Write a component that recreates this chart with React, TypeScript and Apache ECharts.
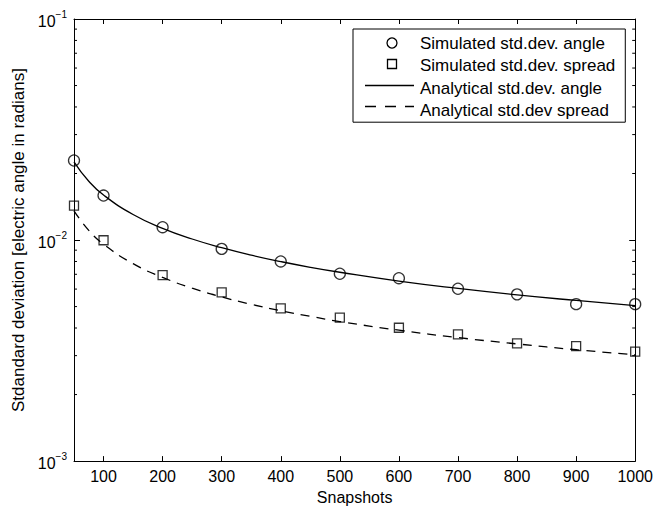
import React, { useEffect, useRef } from "react";
import * as echarts from "echarts";

const simX = [50, 100, 200, 300, 400, 500, 600, 700, 800, 900, 1000];
const simAngle = [0.0229, 0.0159, 0.01143, 0.00912, 0.0080, 0.00704, 0.00672, 0.00602, 0.00568, 0.00513, 0.00513];
const simSpread = [0.01432, 0.00998, 0.00694, 0.0058, 0.00491, 0.00446, 0.00401, 0.00374, 0.00341, 0.00331, 0.00313];

const anaX = [50, 75, 100, 150, 200, 250, 300, 350, 400, 450, 500, 600, 700, 800, 900, 1000];
const anaAngle = [0.0226, 0.01845, 0.01598, 0.01305, 0.0113, 0.01011, 0.00923, 0.00854, 0.00799, 0.00753, 0.00715, 0.00652, 0.00604, 0.00565, 0.00533, 0.00505];
const anaSpread = [0.01355, 0.01106, 0.00958, 0.00782, 0.00678, 0.00606, 0.00553, 0.00512, 0.00479, 0.00452, 0.00428, 0.00391, 0.00362, 0.00339, 0.00319, 0.00303];

const xTicks = [100, 200, 300, 400, 500, 600, 700, 800, 900, 1000];
const yMinorTicks = [
  0.002, 0.003, 0.004, 0.005, 0.006, 0.007, 0.008, 0.009,
  0.02, 0.03, 0.04, 0.05, 0.06, 0.07, 0.08, 0.09,
];

const names = [
  "Simulated std.dev. angle",
  "Simulated std.dev. spread",
  "Analytical std.dev. angle",
  "Analytical std.dev spread",
];

const FONT = "Liberation Sans, Arial, Helvetica, sans-serif";

export default function App() {
  const ref = useRef<HTMLDivElement>(null);
  useEffect(() => {
    if (!ref.current) return;
    const chart = echarts.init(ref.current, null, { renderer: "svg" });
    const axisLineStyle = { color: "#000", width: 1 };
    const xCommon = {
      type: "value",
      min: 50,
      max: 1000,
      splitLine: { show: false },
      axisLine: { show: true, onZero: false, lineStyle: axisLineStyle },
    };
    const yCommon = {
      type: "log",
      logBase: 10,
      min: 0.001,
      max: 0.1,
      splitLine: { show: false },
      axisLine: { show: true, onZero: false, lineStyle: axisLineStyle },
      axisTick: { show: true, inside: true, length: 6, lineStyle: axisLineStyle },
    };
    const iconStroke = { stroke: "#000", lineWidth: 1.3, fill: "none" };
    chart.setOption({
      animation: false,
      backgroundColor: "#fff",
      textStyle: { fontFamily: FONT },
      grid: { left: 74, right: 19, top: 19, bottom: 48, containLabel: false },
      legend: {
        data: names.map((n) => ({ name: n, icon: "none" })),
        orient: "vertical",
        left: 353,
        top: 29,
        padding: [6, 10, 3, 12],
        itemGap: 5.4,
        itemWidth: 50,
        itemHeight: 10,
        selectedMode: false,
        backgroundColor: "#fff",
        borderColor: "#000",
        borderWidth: 1,
        z: 5,
        textStyle: { fontFamily: FONT, fontSize: 17, color: "#000", lineHeight: 16 },
      },
      graphic: [
        { type: "circle", z: 100, shape: { cx: 392, cy: 43, r: 5 }, style: iconStroke },
        { type: "rect", z: 100, shape: { x: 387.5, y: 59.5, width: 9, height: 9 }, style: iconStroke },
        { type: "line", z: 100, shape: { x1: 365, y1: 85.5, x2: 414, y2: 85.5 }, style: { stroke: "#000", lineWidth: 1.3 } },
        { type: "line", z: 100, shape: { x1: 365, y1: 106.5, x2: 414, y2: 106.5 }, style: { stroke: "#000", lineWidth: 1.3, lineDash: [11, 9] } },
      ],
      xAxis: [
        {
          ...xCommon,
          position: "bottom",
          name: "Snapshots",
          nameLocation: "middle",
          nameGap: 26,
          nameTextStyle: { fontFamily: FONT, fontSize: 16, color: "#000" },
          axisTick: { show: true, inside: true, length: 5, customValues: xTicks, lineStyle: axisLineStyle },
          axisLabel: {
            show: true,
            customValues: xTicks,
            margin: 7,
            formatter: (v: number) => String(v),
            fontFamily: FONT,
            fontSize: 16,
            color: "#000",
          },
        },
        {
          ...xCommon,
          position: "top",
          axisTick: { show: true, inside: true, length: 5, customValues: xTicks, lineStyle: axisLineStyle },
          axisLabel: { show: false },
        },
      ],
      yAxis: [
        {
          ...yCommon,
          position: "left",
          name: "Stdandard deviation [electric angle in radians]",
          nameLocation: "middle",
          nameGap: 40,
          nameTextStyle: { fontFamily: FONT, fontSize: 17, color: "#000" },
          axisLabel: {
            show: true,
            margin: 7,
            formatter: (v: number) => {
              const e = Math.round(Math.log10(v));
              return "{b|10}{s|" + (e < 0 ? "\u2212" + -e : "" + e) + "}";
            },
            rich: {
              b: { fontFamily: FONT, fontSize: 16, color: "#000", padding: [4, 0, 0, 0] },
              s: { fontFamily: FONT, fontSize: 10, color: "#000", padding: [0, 0, 10, 0] },
            },
          },
        },
        {
          ...yCommon,
          position: "right",
          axisLabel: { show: false },
        },
      ],
      series: [
        {
          name: names[0],
          type: "scatter",
          data: simX.map((x, i) => [x, simAngle[i]]),
          symbol: "circle",
          symbolSize: 11,
          itemStyle: { color: "rgba(255,255,255,0)", borderColor: "#000", borderWidth: 1.3 },
          z: 3,
        },
        {
          name: names[1],
          type: "scatter",
          data: simX.map((x, i) => [x, simSpread[i]]),
          symbol: "rect",
          symbolSize: 9,
          itemStyle: { color: "rgba(255,255,255,0)", borderColor: "#000", borderWidth: 1.3 },
          z: 3,
        },
        {
          name: names[2],
          type: "line",
          data: anaX.map((x, i) => [x, anaAngle[i]]),
          smooth: true,
          showSymbol: false,
          symbol: "none",
          color: "#000",
          lineStyle: { color: "#000", width: 1.3, type: "solid" },
          z: 2,
        },
        {
          name: names[3],
          type: "line",
          data: anaX.map((x, i) => [x, anaSpread[i]]),
          smooth: true,
          showSymbol: false,
          symbol: "none",
          color: "#000",
          lineStyle: { color: "#000", width: 1.3, type: [9, 7] },
          z: 2,
        },
        {
          type: "custom",
          data: yMinorTicks.map((v) => [50, v]),
          encode: { x: 0, y: 1 },
          silent: true,
          z: 1,
          renderItem: (params: any, api: any) => {
            const p = api.coord([api.value(0), api.value(1)]);
            const cs = params.coordSys;
            const st = { stroke: "#000", lineWidth: 1 };
            return {
              type: "group",
              children: [
                { type: "line", shape: { x1: cs.x, y1: p[1], x2: cs.x + 3, y2: p[1] }, style: st },
                { type: "line", shape: { x1: cs.x + cs.width - 3, y1: p[1], x2: cs.x + cs.width, y2: p[1] }, style: st },
              ],
            };
          },
        },
      ],
    });
    return () => chart.dispose();
  }, []);
  return <div ref={ref} style={{ position: "absolute", left: 0, top: 0, width: 656, height: 510 }} />;
}
